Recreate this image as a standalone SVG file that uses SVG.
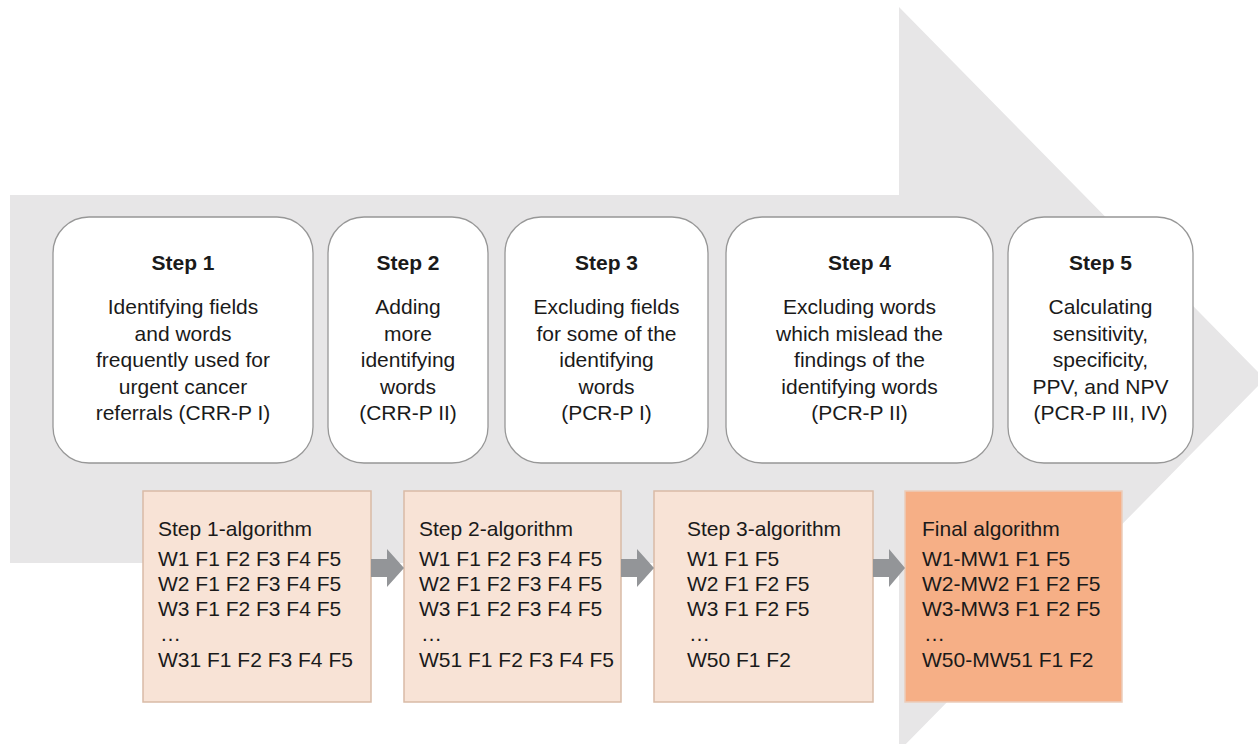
<svg xmlns="http://www.w3.org/2000/svg" width="1258" height="744" viewBox="0 0 1258 744">
<style>
.step{fill:#ffffff;stroke:#979797;stroke-width:1.3}
.t{font-family:"Liberation Sans",Arial,sans-serif;font-size:21px;fill:#1a1a1a}
.b{font-weight:bold}
.c{text-anchor:middle}
.alg{fill:#F8E3D6;stroke:#D9BBA6;stroke-width:1.5}
.fin{fill:#F6AF86;stroke:#EBCDBB;stroke-width:1.5}
.arr{fill:#939598}
</style>
<rect width="1258" height="744" fill="#ffffff"/>
<polygon id="bigArrow" points="10,195 899,195 899,7 1265,379 899,751 899,563 10,563" fill="#E7E6E7"/>

<g id="step1">
<rect class="step" x="53" y="217" width="260" height="246" rx="36"/>
<text class="t b c" x="183" y="270">Step 1</text>
<text class="t c" x="183" y="314">Identifying fields</text>
<text class="t c" x="183" y="341">and words</text>
<text class="t c" x="183" y="367">frequently used for</text>
<text class="t c" x="183" y="394">urgent cancer</text>
<text class="t c" x="183" y="420">referrals (CRR-P I)</text>
</g>
<g id="step2">
<rect class="step" x="328" y="217" width="160" height="246" rx="36"/>
<text class="t b c" x="408" y="270">Step 2</text>
<text class="t c" x="408" y="314">Adding</text>
<text class="t c" x="408" y="341">more</text>
<text class="t c" x="408" y="367">identifying</text>
<text class="t c" x="408" y="394">words</text>
<text class="t c" x="408" y="420">(CRR-P II)</text>
</g>
<g id="step3">
<rect class="step" x="505" y="217" width="203" height="246" rx="36"/>
<text class="t b c" x="606.5" y="270">Step 3</text>
<text class="t c" x="606.5" y="314">Excluding fields</text>
<text class="t c" x="606.5" y="341">for some of the</text>
<text class="t c" x="606.5" y="367">identifying</text>
<text class="t c" x="606.5" y="394">words</text>
<text class="t c" x="606.5" y="420">(PCR-P I)</text>
</g>
<g id="step4">
<rect class="step" x="726" y="217" width="267" height="246" rx="36"/>
<text class="t b c" x="859.5" y="270">Step 4</text>
<text class="t c" x="859.5" y="314">Excluding words</text>
<text class="t c" x="859.5" y="341">which mislead the</text>
<text class="t c" x="859.5" y="367">findings of the</text>
<text class="t c" x="859.5" y="394">identifying words</text>
<text class="t c" x="859.5" y="420">(PCR-P II)</text>
</g>
<g id="step5">
<rect class="step" x="1008" y="217" width="185" height="246" rx="36"/>
<text class="t b c" x="1100.5" y="270">Step 5</text>
<text class="t c" x="1100.5" y="314">Calculating</text>
<text class="t c" x="1100.5" y="341">sensitivity,</text>
<text class="t c" x="1100.5" y="367">specificity,</text>
<text class="t c" x="1100.5" y="394">PPV, and NPV</text>
<text class="t c" x="1100.5" y="420">(PCR-P III, IV)</text>
</g>

<g id="alg1">
<rect class="alg" x="143" y="491" width="228" height="211"/>
<text class="t" x="158" y="536">Step 1-algorithm</text>
<text class="t" x="158" y="566">W1 F1 F2 F3 F4 F5</text>
<text class="t" x="158" y="591">W2 F1 F2 F3 F4 F5</text>
<text class="t" x="158" y="616">W3 F1 F2 F3 F4 F5</text>
<text class="t" x="160" y="641">…</text>
<text class="t" x="158" y="667">W31 F1 F2 F3 F4 F5</text>
</g>
<g id="alg2">
<rect class="alg" x="404" y="491" width="217" height="211"/>
<text class="t" x="419" y="536">Step 2-algorithm</text>
<text class="t" x="419" y="566">W1 F1 F2 F3 F4 F5</text>
<text class="t" x="419" y="591">W2 F1 F2 F3 F4 F5</text>
<text class="t" x="419" y="616">W3 F1 F2 F3 F4 F5</text>
<text class="t" x="421" y="641">…</text>
<text class="t" x="419" y="667">W51 F1 F2 F3 F4 F5</text>
</g>
<g id="alg3">
<rect class="alg" x="654" y="491" width="219" height="211"/>
<text class="t" x="687" y="536">Step 3-algorithm</text>
<text class="t" x="687" y="566">W1 F1 F5</text>
<text class="t" x="687" y="591">W2 F1 F2 F5</text>
<text class="t" x="687" y="616">W3 F1 F2 F5</text>
<text class="t" x="689" y="641">…</text>
<text class="t" x="687" y="667">W50 F1 F2</text>
</g>
<g id="algFinal">
<rect class="fin" x="905" y="491" width="217" height="211"/>
<text class="t" x="922" y="536">Final algorithm</text>
<text class="t" x="922" y="566">W1-MW1 F1 F5</text>
<text class="t" x="922" y="591">W2-MW2 F1 F2 F5</text>
<text class="t" x="922" y="616">W3-MW3 F1 F2 F5</text>
<text class="t" x="924" y="641">…</text>
<text class="t" x="922" y="667">W50-MW51 F1 F2</text>
</g>

<g id="connectors">
<polygon class="arr" points="371,559 387,559 387,549 404,568 387,587 387,577 371,577"/>
<polygon class="arr" points="621,559 637,559 637,549 654,568 637,587 637,577 621,577"/>
<polygon class="arr" points="873,559 889,559 889,549 905,568 889,587 889,577 873,577"/>
</g>
</svg>
